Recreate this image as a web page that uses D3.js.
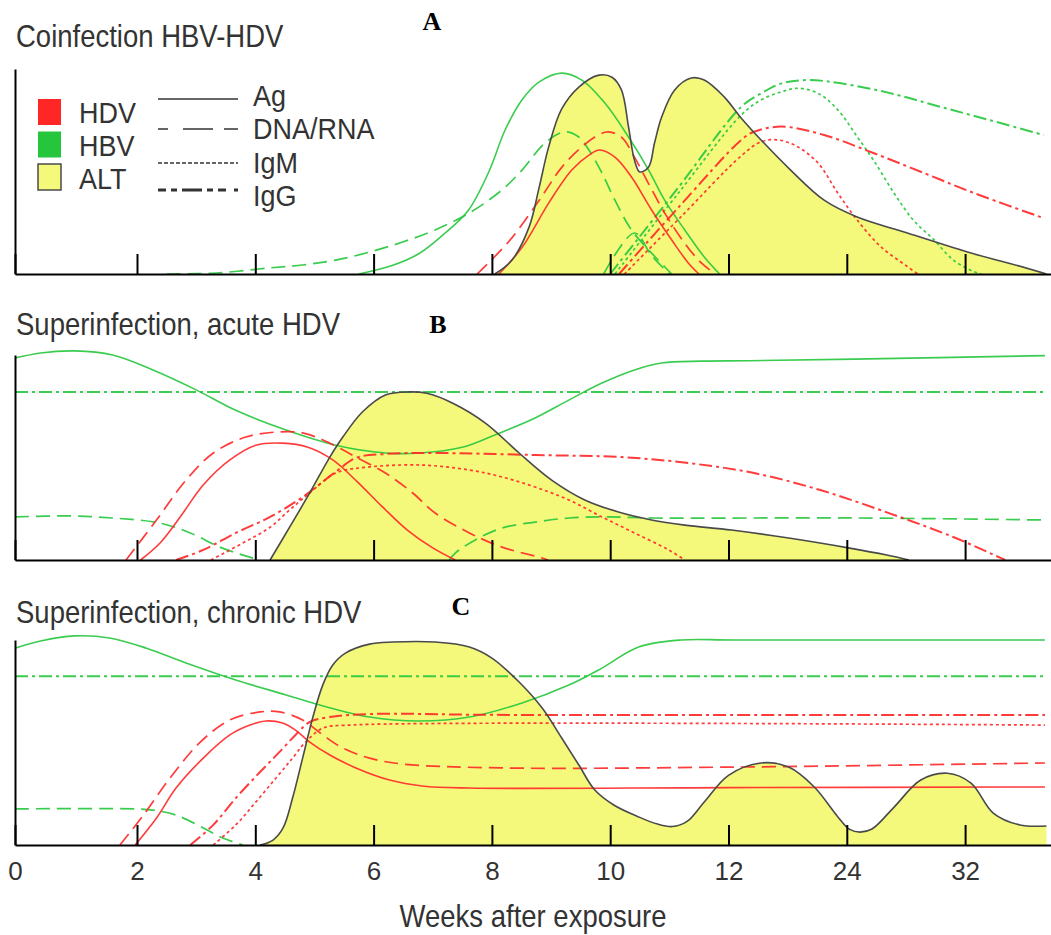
<!DOCTYPE html>
<html>
<head>
<meta charset="utf-8">
<script src="https://cdn.jsdelivr.net/npm/d3@7"></script>
<style>
body { margin: 0; background: #fff; }
svg text { font-family: "Liberation Sans", Arial, Helvetica, sans-serif; fill: #333; }
</style>
</head>
<body>
<div id="chart"></div>
<script>
// tick labels on the (non-linear) week axis
var weekTicks = [0, 2, 4, 6, 8, 10, 12, 24, 32];

var panelTitles = ["Coinfection HBV-HDV", "Superinfection, acute HDV", "Superinfection, chronic HDV"];
var panelLetters = ["A", "B", "C"];

// legend
var virusNames = ["HDV", "HBV", "ALT"];
var markerNames = ["Ag", "DNA/RNA", "IgM", "IgG"];

// ---- A: coinfection, [week, relative level 0-100]
var coinfAlt = [[8.05,0],[8.34,6.8],[8.63,23],[8.8,42.4],[8.96,62],[9.18,80.5],[9.47,91.2],[9.81,97],[10.03,96],[10.19,89.8],[10.31,71.7],[10.41,55.6],[10.5,49.8],[10.65,52.2],[10.75,64],[10.87,76.6],[11.09,89.8],[11.37,95.6],[11.59,94.6],[11.93,86.3],[13.3,76],[15.3,65.4],[18.3,50.7],[21.7,36],[24.7,27.8],[28.1,20],[32.4,10.2],[34.9,5.4],[37.5,0]];
var coinfHbvAg = [[5.75,0],[6.3,4],[6.77,10],[7.21,20],[7.6,31],[7.95,50],[8.22,70],[8.51,85],[8.8,93.7],[9.18,98],[9.52,94.6],[9.91,83.4],[10.31,66.8],[10.65,50.7],[10.92,36],[11.26,21.5],[11.59,8.3],[11.85,0]];
var coinfHbvDna = [[2.5,0],[3.34,0.5],[4.25,3],[4.8,4.4],[5.36,6.8],[5.93,10.7],[6.49,15.6],[7.04,21.5],[7.62,29.8],[8.17,41],[8.51,50.7],[8.9,64],[9.23,69.3],[9.47,66.8],[9.64,60.5],[9.86,49.3],[10.08,36],[10.36,21.5],[10.7,10.2],[11.04,0]];
var coinfHbvDna2 = [[9.89,0],[10.41,20],[10.7,9],[11.0,0]];
var coinfHbvIgm = [[10.08,0],[11.14,39],[13.3,77.6],[15.3,84.9],[17.4,88.9],[19.0,90.6],[21.1,88.1],[23.1,80],[24.7,67],[25.8,55.6],[27.2,39.4],[28.5,26.3],[29.9,16.6],[31.2,6.8],[32.6,1.1],[33.1,0]];
var coinfHbvIgg = [[10.0,0],[11.12,41],[13.3,81.6],[15.3,88.1],[17.4,93],[20.1,94.6],[23.4,93],[27.0,88.1],[30.3,81.6],[33.7,75],[37.3,67.8]];
var coinfHdvAg = [[8.12,0],[8.51,13],[8.96,34.6],[9.35,50.7],[9.64,58],[9.82,60.5],[10.08,57],[10.36,47.3],[10.7,31.2],[11.04,16.6],[11.32,5.4],[11.5,0]];
var coinfHdvRna = [[7.75,0],[8.29,16],[8.8,36],[9.18,52],[9.52,62],[9.81,68],[9.97,69.3],[10.19,66.8],[10.41,57],[10.65,44],[10.92,29.8],[11.26,15],[11.54,5.4],[11.78,0]];
var coinfHdvIgm = [[10.24,0],[11.2,28],[13.3,57.7],[15.3,64.5],[17.0,65.4],[19.0,62.1],[21.1,54],[23.1,39.4],[24.7,26.3],[26.3,13.3],[28.1,3.6],[28.8,0]];
var coinfHdvIgg = [[10.15,0],[11.17,33],[13.3,65.4],[14.6,69.4],[17.4,71.9],[21.7,67.8],[25.8,59],[29.2,49.3],[32.6,39.5],[37.3,27.3]];

// ---- B: superinfection, acute HDV
var acuteAlt = [[4.25,0],[4.58,16],[4.92,32.7],[5.26,50.2],[5.48,60],[5.81,72.2],[6.2,80.5],[6.6,82],[6.9,81.3],[7.33,76.6],[7.89,66.8],[8.46,52.2],[9.01,39],[9.57,29.3],[10.14,23.4],[10.7,19.5],[11.26,17],[12.3,14.6],[18.1,10.7],[24.1,5.9],[26.7,2.4],[28.2,0]];
var acuteHbvAg = [[0,98.5],[0.42,101],[0.98,102],[1.6,100],[2.27,92.7],[3.0,83],[3.67,73],[4.52,63.4],[5.36,56],[6.2,52.2],[6.77,52.2],[7.5,55],[8.05,61],[8.73,69.3],[9.3,78],[9.86,86.3],[10.41,92.7],[10.87,96.1],[11.54,97],[14,97.2],[24.5,98],[37.4,99.7]];
var acuteHbvDna = [[0,21],[0.88,21.5],[1.6,20.5],[2.39,18],[2.9,13.2],[3.4,6.3],[3.79,2.4],[4.08,0]];
var acuteHbvDna2 = [[7.28,0],[7.38,3.4],[7.72,9.8],[8.17,15.6],[8.73,18.5],[9.3,20.5],[9.86,21],[10.75,20.5],[24.5,20.5],[37.4,19.5]];
var acuteHbvIgg = [[0,82],[37.5,82]];
var acuteHdvAg = [[2.06,0],[2.39,8.3],[2.73,21],[3.12,36.6],[3.57,48.8],[4.01,56],[4.46,57],[4.89,55],[5.31,48.8],[5.73,38],[6.15,25.9],[6.57,14.6],[7.0,5.9],[7.38,0]];
var acuteHdvRna = [[1.82,0],[2.33,19.5],[2.83,39],[3.29,52.2],[3.84,60],[4.35,62.4],[4.8,62],[5.26,57],[5.7,50.2],[6.2,42.4],[6.66,32.7],[7.04,22.9],[7.62,13.2],[8.17,6.3],[8.85,1],[8.95,0]];
var acuteHdvIgm = [[3.25,0],[3.79,8.3],[4.25,16],[4.58,24.4],[4.92,32.7],[5.36,42.4],[5.93,45.4],[6.82,46.3],[7.62,43.9],[8.17,40.5],[8.73,35.6],[9.3,29.3],[9.86,21],[10.41,13.2],[10.99,4.9],[11.26,0]];
var acuteHdvIgg = [[2.66,0],[3.12,4.9],[3.67,13.2],[4.25,21],[4.8,30.7],[5.36,43],[5.7,49.8],[6.2,51.7],[7.04,52.2],[8.73,51.2],[10.19,50.2],[11.32,47.3],[14.6,42.4],[21.4,34],[26.8,23],[31.2,11.2],[34.4,1],[34.7,0]];

// ---- C: superinfection, chronic HDV
var chronicAlt = [[4.08,0],[4.3,2.4],[4.47,8.3],[4.63,22.9],[4.8,42.4],[4.97,62],[5.14,78],[5.31,87.8],[5.53,93.7],[5.93,98],[6.32,99],[7.04,99],[7.62,96.6],[8.0,91.2],[8.46,79.5],[8.85,66.8],[9.18,52.2],[9.47,39],[9.74,26.8],[10.06,19.5],[10.48,13.7],[10.8,10.2],[11.05,9],[11.3,11.5],[11.59,21],[12.0,34],[15.3,40],[18.1,38],[20.7,28.3],[23.1,13.7],[24.2,7.6],[24.9,6.3],[25.7,7.8],[27.2,18.5],[29.0,31.7],[30.8,35],[32.4,30.2],[33.9,15.6],[35.7,9.8],[37.5,9.3]];
var chronicHbvAg = [[0,96],[0.42,99.5],[0.98,102],[1.55,101],[2.16,96],[2.83,88.8],[3.67,80.5],[4.52,73.2],[5.09,68.3],[5.93,62.4],[6.77,60.5],[7.62,62.4],[8.51,69.3],[9.3,78],[9.86,86.3],[10.48,96.6],[11.2,100],[12.5,100],[37.4,100]];
var chronicHbvDna = [[0,17.6],[1.99,17.6],[2.27,17],[2.66,14.6],[3.12,8.3],[3.45,3.4],[3.79,0]];
var chronicHbvIgg = [[0,82.3],[37.5,82.3]];
var chronicHdvAg = [[1.97,0],[2.33,13.2],[2.66,27.8],[3.12,42.4],[3.57,53.7],[3.91,58.5],[4.18,60.5],[4.46,59.5],[4.68,56],[4.92,50.2],[5.26,43.9],[5.7,37.6],[6.27,31.7],[6.82,28.8],[7.62,27.8],[12,28],[37.4,28.3]];
var chronicHdvRna = [[1.72,0],[2.11,14.6],[2.56,32.7],[3.07,50.2],[3.57,61],[4.08,64.9],[4.41,64.9],[4.8,61],[5.14,53.7],[5.48,47.3],[5.93,42.4],[6.49,39.5],[8.17,37.6],[12.3,38],[37.4,40]];
var chronicHdvIgm = [[3.29,0],[3.67,9.8],[4.01,21],[4.35,32.7],[4.63,42.4],[4.85,50.2],[5.14,57],[5.59,58.5],[37.4,58.5]];
var chronicHdvIgg = [[2.9,0],[3.29,9.8],[3.67,22.9],[4.08,35.6],[4.41,45.4],[4.68,53.7],[4.92,60],[5.26,62.4],[5.93,63.9],[8,63.5],[37.4,63.4]];

var colors = { HDV: "#ff2626", HBV: "#25c63c", ALT: "#f4f97c" };
var dashes = { "Ag": null, "DNA/RNA": "14,7", "IgM": "3,3", "IgG": "13,4,3,4" };
var widths = { "Ag": 1.6, "DNA/RNA": 1.7, "IgM": 1.7, "IgG": 2 };

var panels = [
  { alt: coinfAlt, series: [
    [coinfHbvDna, "HBV", "DNA/RNA"], [coinfHbvDna2, "HBV", "DNA/RNA"], [coinfHbvAg, "HBV", "Ag"],
    [coinfHbvIgm, "HBV", "IgM"], [coinfHbvIgg, "HBV", "IgG"],
    [coinfHdvRna, "HDV", "DNA/RNA"], [coinfHdvAg, "HDV", "Ag"],
    [coinfHdvIgm, "HDV", "IgM"], [coinfHdvIgg, "HDV", "IgG"]] },
  { alt: acuteAlt, series: [
    [acuteHbvAg, "HBV", "Ag"], [acuteHbvIgg, "HBV", "IgG"], [acuteHbvDna, "HBV", "DNA/RNA"], [acuteHbvDna2, "HBV", "DNA/RNA"],
    [acuteHdvAg, "HDV", "Ag"], [acuteHdvRna, "HDV", "DNA/RNA"], [acuteHdvIgm, "HDV", "IgM"], [acuteHdvIgg, "HDV", "IgG"]] },
  { alt: chronicAlt, series: [
    [chronicHbvAg, "HBV", "Ag"], [chronicHbvIgg, "HBV", "IgG"], [chronicHbvDna, "HBV", "DNA/RNA"],
    [chronicHdvAg, "HDV", "Ag"], [chronicHdvRna, "HDV", "DNA/RNA"], [chronicHdvIgm, "HDV", "IgM"], [chronicHdvIgg, "HDV", "IgG"]] }
];

var svgWidth = 1051;
var svgHeight = 935;
var baselines = [274, 560, 845];
var plotHeight = 205;

var svg = d3.select("#chart")
  .append("svg")
  .attr("width", svgWidth)
  .attr("height", svgHeight);

// tick positions are evenly spaced although the weeks are not
var xDomain = weekTicks.concat([40]);
var x = d3.scaleLinear()
  .domain(xDomain)
  .range(xDomain.map((d, i) => i === 0 ? 15 : 137 + (i - 1) * 118.3));

// text slightly stretched vertically like in the original figure
function label(g, txt, tx, ty, size, anchor) {
  return g.append("text")
    .attr("transform", `translate(${tx},${ty}) scale(1,1.12)`)
    .attr("font-size", size)
    .attr("text-anchor", anchor || "start")
    .text(txt);
}

panels.forEach(function(p, k) {
  var base = baselines[k];
  var y = d3.scaleLinear().domain([0, 100]).range([base, base - plotHeight]);
  var g = svg.append("g");

  var line = d3.line()
    .x(d => x(d[0]))
    .y(d => y(d[1]))
    .curve(d3.curveCatmullRom.alpha(0.5));
  var area = d3.area()
    .x(d => x(d[0]))
    .y0(y(0))
    .y1(d => y(d[1]))
    .curve(d3.curveCatmullRom.alpha(0.5));

  // ALT fill
  g.append("path")
    .datum(p.alt)
    .attr("d", area)
    .attr("fill", colors.ALT);

  p.series.forEach(function(s) {
    g.append("path")
      .datum(s[0])
      .attr("d", line)
      .attr("fill", "none")
      .attr("stroke", colors[s[1]])
      .attr("stroke-opacity", 0.9)
      .attr("stroke-width", widths[s[2]])
      .attr("stroke-dasharray", dashes[s[2]]);
  });

  // ALT outline
  g.append("path")
    .datum(p.alt)
    .attr("d", line)
    .attr("fill", "none")
    .attr("stroke", "#4a4a4a")
    .attr("stroke-width", 1.6);

  // axes
  var xAxis = d3.axisBottom(x)
    .tickValues(weekTicks)
    .tickSizeInner(-20)
    .tickSizeOuter(0)
    .tickPadding(17);
  if (k < 2) xAxis.tickFormat(() => "");
  var ax = g.append("g")
    .attr("transform", `translate(0, ${base})`)
    .call(xAxis)
    .attr("font-size", 26);
  ax.selectAll("line").attr("stroke-width", 2);
  ax.select(".domain").attr("stroke-width", 2);

  var yAxis = d3.axisLeft(y).tickValues([]).tickSizeOuter(0);
  g.append("g")
    .attr("transform", "translate(15, 0)")
    .call(yAxis)
    .select(".domain").attr("stroke-width", 2);

  label(g, panelTitles[k], 16, [47, 335, 623][k], 27.5);

  g.append("text")
    .attr("x", [432, 438, 461][k])
    .attr("y", [30, 333, 615][k])
    .attr("text-anchor", "middle")
    .attr("font-size", 26)
    .attr("font-weight", "bold")
    .style("font-family", "'Liberation Serif', 'Times New Roman', serif")
    .style("fill", "#000")
    .text(panelLetters[k]);
});

// legend (panel A)
var legend = svg.append("g");
virusNames.forEach(function(name, i) {
  legend.append("rect")
    .attr("x", 38)
    .attr("y", 99 + i * 32.5)
    .attr("width", 23)
    .attr("height", 26)
    .attr("fill", colors[name])
    .attr("stroke", name === "ALT" ? "#4a4a4a" : "none")
    .attr("stroke-width", 1.5);
  label(legend, name, 79, 123 + i * 33, 27);
});
markerNames.forEach(function(name, i) {
  var ly = [99, 129, 163, 190][i];
  legend.append("line")
    .attr("x1", 158).attr("x2", 238)
    .attr("y1", ly).attr("y2", ly)
    .attr("stroke", "#333")
    .attr("stroke-width", name === "IgG" ? 3 : 1.6)
    .attr("stroke-dasharray", name === "DNA/RNA" ? "10,15,30,11,14" : name === "IgM" ? "4,2" : name === "IgG" ? "8,5,6,5,20,5,6,5,8" : null);
  label(legend, name, 253, 106 + i * 33.3, 27);
});

label(svg, "Weeks after exposure", 533, 927, 27.5, "middle");
</script>
</body>
</html>
